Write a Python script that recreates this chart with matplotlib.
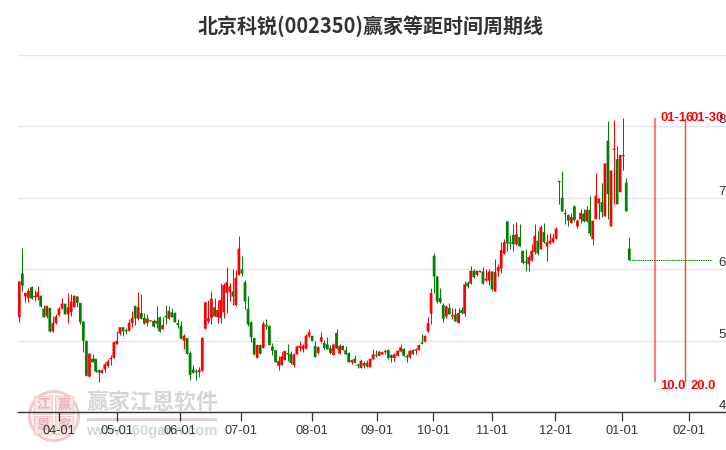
"""
北京科锐(002350) candlestick chart with equal-distance time cycle lines.
Values are read off the reference picture.
"""
import numpy as np
import matplotlib
matplotlib.use("Agg")
import matplotlib.pyplot as plt
import matplotlib.patches as mpatches

W, H = 726, 450
DPI = 100

# ── Colors ─────────────────────────────────────────────────────────────────────
RED = "#FF0000"; GREEN = "#008000"; GRID = "#E6E6E6"; DARK = "#333333"
WM_GREY = "#D6D6D6"; WM_PINK = "#F0CBCB"; WM_SQUARE = "#F8E4E4"; WM_CHAR = "#E8B4B4"

plt.rcParams["font.family"] = ["Liberation Sans", "Noto Sans CJK SC", "DejaVu Sans"]
CJK = ["Noto Sans CJK SC", "DejaVu Sans"]

# ── Data ───────────────────────────────────────────────────────────────────────
TITLE = "北京科锐(002350)赢家等距时间周期线"

opens = [
    5.33,5.94,5.62,5.60,5.75,5.61,5.61,5.63,5.45,5.34,5.46,5.13,5.25,5.36,5.45,5.52,5.37,5.40,5.47,5.62,
    5.53,5.27,5.00,4.50,4.75,4.75,4.59,4.55,4.60,4.65,4.74,4.76,4.95,5.10,5.19,5.14,5.14,5.25,5.49,5.31,
    5.39,5.32,5.25,5.28,5.28,5.24,5.33,5.16,5.35,5.31,5.40,5.39,5.25,5.21,5.00,5.04,4.83,4.60,4.58,4.56,
    4.58,5.17,5.27,5.32,5.47,5.33,5.32,5.40,5.67,5.68,5.69,5.50,5.92,6.00,5.82,5.45,5.26,5.04,4.76,4.94,
    4.90,5.22,5.21,4.92,4.87,4.65,4.66,4.73,4.83,4.82,4.66,4.81,4.90,4.88,4.89,5.06,5.07,4.93,4.83,4.99,
    4.97,4.95,4.90,4.80,5.11,4.82,4.93,4.87,4.83,4.70,4.75,4.66,4.62,4.69,4.64,4.63,4.74,4.80,4.79,4.81,
    4.84,4.87,4.80,4.76,4.79,4.85,4.89,4.79,4.77,4.87,4.86,4.87,4.97,4.99,5.13,5.38,6.19,5.90,5.60,5.50,
    5.34,5.46,5.34,5.37,5.25,5.43,5.38,5.81,5.80,5.98,5.92,5.96,5.97,5.84,5.84,5.97,5.69,5.97,6.01,6.22,
    6.67,6.38,6.48,6.35,6.45,6.26,6.10,6.07,6.12,6.24,6.40,6.28,6.52,6.32,6.36,6.38,6.43,7.23,7.00,6.78,
    6.76,6.65,6.88,6.60,6.70,6.78,6.67,6.83,6.42,6.70,6.92,6.94,6.74,7.80,6.60,7.67,7.54,7.08,7.60,7.21,
    6.29,
]
closes = [
    5.83,5.77,5.67,5.70,5.59,5.63,5.68,5.48,5.33,5.49,5.13,5.25,5.34,5.45,5.52,5.37,5.47,5.55,5.63,5.53,
    5.26,5.00,4.51,4.82,4.70,4.57,4.56,4.59,4.67,4.71,4.76,4.98,5.00,5.19,5.13,5.13,5.25,5.32,5.31,5.47,
    5.31,5.24,5.31,5.27,5.20,5.28,5.13,5.22,5.33,5.42,5.33,5.26,5.22,5.03,5.07,4.82,4.52,4.55,4.56,4.59,
    5.04,5.54,5.32,5.59,5.34,5.43,5.57,5.78,5.82,5.76,5.62,5.88,6.29,5.94,5.55,5.23,5.05,4.81,4.94,4.82,
    5.24,5.20,4.94,4.86,4.70,4.72,4.78,4.86,4.81,4.69,4.81,4.92,4.93,4.93,5.07,5.12,5.00,4.77,4.91,5.05,
    4.90,4.88,4.83,4.95,4.89,4.93,4.87,4.81,4.70,4.73,4.69,4.65,4.72,4.65,4.69,4.75,4.81,4.79,4.85,4.84,
    4.86,4.76,4.76,4.81,4.86,4.91,4.79,4.77,4.86,4.81,4.88,4.94,4.96,5.07,5.25,5.67,5.90,5.55,5.54,5.31,
    5.48,5.37,5.35,5.27,5.39,5.39,5.79,5.76,5.98,5.89,5.98,5.98,5.80,5.87,5.97,5.72,5.96,6.03,6.27,6.38,
    6.36,6.36,6.35,6.49,6.32,6.09,6.09,6.17,6.26,6.47,6.22,6.59,6.38,6.38,6.40,6.44,6.57,7.22,6.81,6.77,
    6.68,6.73,6.69,6.68,6.79,6.67,6.83,6.50,6.68,7.03,6.99,6.80,7.48,7.05,7.38,7.68,6.91,7.60,7.58,6.81,
    6.13,
]
highs = [
    5.83,6.30,5.67,5.74,5.77,5.71,5.77,5.64,5.50,5.49,5.46,5.35,5.37,5.47,5.60,5.52,5.67,5.66,5.64,5.62,
    5.53,5.27,5.00,4.83,4.81,4.75,4.60,4.60,4.70,4.75,4.80,5.00,5.14,5.20,5.19,5.18,5.30,5.41,5.49,5.68,
    5.66,5.39,5.37,5.28,5.31,5.48,5.34,5.33,5.50,5.48,5.46,5.40,5.30,5.27,5.09,5.04,4.86,4.66,4.60,4.63,
    5.06,5.54,5.57,5.69,5.60,5.57,5.81,5.81,6.03,5.81,6.00,5.99,6.46,6.19,5.85,5.63,5.28,5.04,4.95,4.95,
    5.28,5.31,5.21,4.97,4.87,4.79,4.84,4.86,4.95,4.86,4.83,4.94,5.00,4.96,5.09,5.16,5.07,5.00,4.93,5.12,
    5.01,5.06,4.94,4.96,5.16,4.95,4.94,4.93,4.85,4.74,4.80,4.69,4.75,4.72,4.73,4.75,4.88,4.87,4.86,4.86,
    4.88,4.88,4.81,4.83,4.87,4.96,4.90,4.81,4.87,4.88,4.90,4.95,5.09,5.08,5.33,5.74,6.23,5.90,5.74,5.53,
    5.50,5.53,5.46,5.46,5.46,5.47,5.83,5.83,6.05,6.01,5.98,5.98,6.03,6.00,6.00,5.97,6.15,6.08,6.38,6.43,
    6.67,6.48,6.64,6.66,6.64,6.26,6.28,6.20,6.36,6.64,6.53,6.62,6.65,6.49,6.51,6.51,6.59,7.23,7.38,6.85,
    6.78,6.79,6.90,6.70,6.84,6.84,6.88,7.02,6.68,7.34,6.99,7.21,7.48,8.08,7.39,8.09,7.72,7.60,8.12,7.28,
    6.45,
]
lows = [
    5.26,5.69,5.54,5.54,5.59,5.55,5.57,5.47,5.33,5.32,5.12,5.13,5.23,5.35,5.44,5.37,5.25,5.34,5.47,5.47,
    5.24,4.84,4.51,4.50,4.70,4.56,4.43,4.55,4.56,4.63,4.66,4.76,4.95,5.08,5.07,5.09,5.14,5.19,5.22,5.29,
    5.31,5.24,5.21,5.27,5.19,5.18,5.13,5.16,5.23,5.30,5.33,5.26,5.18,5.02,4.88,4.82,4.45,4.55,4.45,4.49,
    4.58,5.17,5.25,5.23,5.34,5.25,5.25,5.32,5.39,5.55,5.50,5.49,5.92,5.91,5.44,5.21,4.98,4.80,4.76,4.81,
    4.90,5.16,4.94,4.80,4.70,4.59,4.66,4.73,4.72,4.67,4.64,4.81,4.86,4.84,4.89,5.06,5.00,4.77,4.82,4.97,
    4.89,4.88,4.82,4.80,4.88,4.81,4.87,4.81,4.70,4.67,4.69,4.62,4.62,4.62,4.64,4.63,4.74,4.77,4.79,4.81,
    4.82,4.75,4.70,4.72,4.79,4.84,4.79,4.70,4.76,4.81,4.82,4.87,4.96,4.99,5.12,5.23,5.67,5.53,5.53,5.26,
    5.32,5.37,5.31,5.27,5.25,5.37,5.34,5.74,5.80,5.88,5.90,5.96,5.80,5.83,5.78,5.70,5.69,5.90,5.95,6.22,
    6.26,6.29,6.26,6.34,6.32,6.08,5.97,5.98,6.12,6.22,6.20,6.28,6.37,6.12,6.36,6.37,6.43,6.91,6.81,6.64,
    6.61,6.65,6.67,6.58,6.65,6.66,6.66,6.46,6.34,6.70,6.70,6.73,6.74,6.70,6.60,6.91,6.91,7.08,7.39,6.81,
    6.13,
]

tick_idx = [13.1, 32.1, 52.8, 72.8, 95.8, 117.4, 135.7, 155.0, 175.7, 197.7, 219.7]
tick_labels = ["04-01", "05-01", "06-01", "07-01", "08-01", "09-01",
               "10-01", "11-01", "12-01", "01-01", "02-01"]
price_ticks = [4, 5, 6, 7, 8, 9]
price_labels = ["4", "5", "6", "7", "8", ""]

cycle_idx = [208.3, 218.3]
cycle_dates = ["01-16", "01-30"]
cycle_days = ["10.0", "20.0"]
cycle_width = [1.6, 1.0]
cycle_alpha = [0.5, 0.75]
cycle_low, cycle_high = 4.42, 8.12
flat_end = 228

# ── Figure ─────────────────────────────────────────────────────────────────────
fig = plt.figure(figsize=(W/DPI, H/DPI), dpi=DPI, facecolor="white")
bg = fig.add_axes([0, 0, 1, 1])
bg.set_xlim(0, W); bg.set_ylim(H, 0); bg.axis("off")

# watermark
bg.add_patch(mpatches.Circle((54, 416), 24.5, fill=False, ec=WM_PINK, lw=2.2))
bg.add_patch(mpatches.Circle((54, 416), 21, fill=False, ec=WM_SQUARE, lw=0.8))
for cx, cy, ch in [(43, 405, "江"), (64, 405, "赢"), (43, 425, "恩"), (64, 425, "家")]:
    bg.add_patch(mpatches.Rectangle((cx-9, cy-9), 18, 18, fc=WM_SQUARE, ec=WM_PINK, lw=0.8))
    bg.text(cx, cy, ch, color=WM_CHAR, fontsize=9.5, ha="center", va="center", fontweight="bold", family=CJK)
bg.text(152, 402, "赢家江恩软件", color=WM_GREY, fontsize=15.8, ha="center", va="center", fontweight="bold", family=CJK)
bg.add_patch(mpatches.Rectangle((87, 418), 130, 2.5, fc="#E3D3D3", ec="none"))
bg.text(152, 431, "www.360gann.com", color=WM_GREY, fontsize=10.5, ha="center", va="center", fontweight="bold")

bg.text(371, 26, TITLE, color=DARK, fontsize=14.4, ha="center", va="center", fontweight="bold", family=CJK)

# price axes, 71.5 px per unit, from the axis line up to the 9 grid line
ax = fig.add_axes([18/W, (H-412.3)/H, (W-18)/W, 5*71.5/H])
ax.patch.set_alpha(0)
ax.set_xlim(-0.43, 231.7); ax.set_ylim(4, 9)
for s in ["top", "left", "right"]:
    ax.spines[s].set_visible(False)
ax.spines["bottom"].set_color(DARK); ax.spines["bottom"].set_linewidth(1.0)
ax.set_axisbelow(True)
ax.grid(axis="y", color=GRID, lw=1.0)
ax.set_xticks(tick_idx, tick_labels, fontsize=9.2, color=DARK)
ax.tick_params(axis="x", length=6.5, width=0.9, color=DARK, pad=3)
ax.yaxis.tick_right()
ax.set_yticks(price_ticks, price_labels, fontsize=9.5, color=DARK)
ax.tick_params(axis="y", length=0, pad=0)
for lab in ax.get_yticklabels():
    lab.set_ha("right"); lab.set_va("bottom"); lab.set_clip_on(False)

# candles
o = np.array(opens); c = np.array(closes)
idx = np.arange(len(o))
cols = [RED if c[i] > o[i] else GREEN for i in idx]
ax.vlines(idx, lows, highs, colors=cols, lw=0.72, zorder=3)
body = np.maximum(np.abs(c - o), 0.018)
bars = ax.bar(idx, body, bottom=np.minimum(o, c), width=0.9, color=cols, lw=0, zorder=4)
for b in bars:
    b.set_snap(False)

# flat stretch after the last close
future = np.arange(idx[-1], flat_end)
ax.plot(future, [closes[-1]]*len(future), color=GREEN, lw=0.7, ls=(0, (1.5, 0.8)), zorder=3)

# cycle lines
for x, d, v, lw, a in zip(cycle_idx, cycle_dates, cycle_days, cycle_width, cycle_alpha):
    ax.vlines(x, cycle_low, cycle_high, color=RED, lw=lw, alpha=a, zorder=5)
    ax.text(x+1.8, 8.03, d, color=RED, fontsize=9.4, fontweight="bold", ha="left", va="bottom", zorder=6)
    ax.text(x+1.8, 4.37, v, color=RED, fontsize=9.4, fontweight="bold", ha="left", va="center", zorder=6)

fig.savefig("out.png", dpi=DPI, facecolor="white")
plt.close(fig)
